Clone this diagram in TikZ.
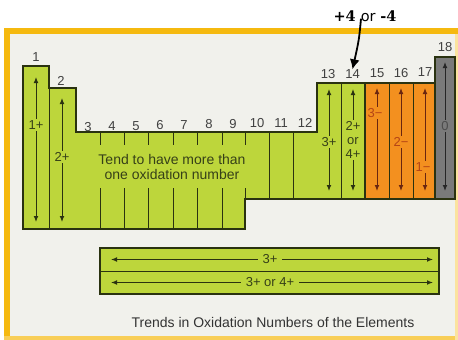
\documentclass[tikz,border=0pt]{standalone}
\usepackage{fontspec}
\setmainfont{Liberation Sans}
\newfontfamily\annserif{DejaVu Serif}
\newfontfamily\annsans{DejaVu Sans}
\usetikzlibrary{arrows.meta}
\definecolor{lime}{HTML}{BDD63B}
\definecolor{orng}{HTML}{F3901F}
\definecolor{grey}{HTML}{7A7A7A}
\definecolor{edge}{HTML}{2A3210}
\definecolor{framey}{HTML}{F5B90F}
\definecolor{pagebg}{HTML}{F1F1EC}
\definecolor{labg}{HTML}{364018}
\definecolor{labo}{HTML}{B44416}
\definecolor{arro}{HTML}{6A2610}
\tikzset{
  numlab/.style={font=\fontsize{13}{14}\selectfont, text=black!75, inner sep=0pt},
  cellab/.style={font=\fontsize{13}{14}\selectfont, inner sep=1.2pt, align=center},
  glab/.style={cellab, fill=lime, text=labg},
  olab/.style={cellab, fill=orng, text=labo},
  ylab/.style={cellab, fill=grey, text=black!70},
  tip/.tip={Latex[length=6pt,width=4.8pt]},
  garrow/.style={draw=edge, line width=1pt, tip-tip},
  oarrow/.style={draw=arro, line width=1pt, tip-tip},
  cell/.style={draw=edge, line width=1.2pt},
  grid/.style={draw=edge, line width=1pt},
}
\begin{document}
\begin{tikzpicture}[x=1pt,y=-1pt]
\useasboundingbox (0,0) rectangle (458,340);
\fill[white] (0,0) rectangle (458,340);
\fill[pagebg] (9,33) rectangle (455,337);
% frame
\fill[framey] (4,28) rectangle (458,34);
\fill[framey] (4,28) rectangle (10,340);
\fill[framey!70] (4,336) rectangle (458,340);
\fill[framey!40] (455,34) rectangle (458,340);

% main green block
\path[cell, fill=lime] (23,66) -- (49,66) -- (49,88) -- (76,88) -- (76,132) -- (317,132)
  -- (317,83) -- (365,83) -- (365,199) -- (245,199) -- (245,229) -- (23,229) -- cycle;
\path[cell, fill=orng] (365,83) rectangle (435,199);
\path[cell, fill=grey] (435,57) rectangle (455,199);

% inner lines
\draw[grid] (49,88) -- (49,229);
\foreach \x in {100,124,148,173,197,222,245} {
  \draw[grid] (\x,132) -- (\x,145);
}
\foreach \x in {100,124,148,173,197,222} {
  \draw[grid] (\x,188) -- (\x,229);
}
\draw[grid] (245,188) -- (245,199);
\foreach \x in {269,293} { \draw[grid] (\x,132) -- (\x,199); }
\draw[grid] (341,83) -- (341,199);
\foreach \x in {389,413} { \draw[grid] (\x,83) -- (\x,199); }

% group numbers
\node[numlab] (n1) at (36,57) {1};
\node[numlab] (n2) at (61,81) {2};
\node[numlab] (n3) at (88,127) {3};
\node[numlab] (n4) at (112,126.5) {4};
\node[numlab] (n5) at (136,126) {5};
\node[numlab] (n6) at (160,125.5) {6};
\node[numlab] (n7) at (184,125) {7};
\node[numlab] (n8) at (209,124.5) {8};
\node[numlab] (n9) at (233,124) {9};
\node[numlab] (n10) at (257,123.5) {10};
\node[numlab] (n11) at (281,123) {11};
\node[numlab] (n12) at (305,122.5) {12};
\node[numlab] (n13) at (328,74) {13};
\node[numlab] (n14) at (352.5,74) {14};
\node[numlab] (n15) at (377,73.5) {15};
\node[numlab] (n16) at (401,73) {16};
\node[numlab] (n17) at (425,72.5) {17};
\node[numlab] (n18) at (445,47) {18};

% column arrows
\coordinate (a1t) at (36,77);   \coordinate (a1b) at (36,222);
\coordinate (a2t) at (62,98);   \coordinate (a2b) at (62,222);
\coordinate (a13t) at (329,89); \coordinate (a13b) at (329,191);
\coordinate (a14t) at (353,89); \coordinate (a14b) at (353,191);
\coordinate (a15t) at (377,88); \coordinate (a15b) at (377,191);
\coordinate (a16t) at (401,88); \coordinate (a16b) at (401,191);
\coordinate (a17t) at (425,88); \coordinate (a17b) at (425,191);
\coordinate (a18t) at (445,62); \coordinate (a18b) at (445,191);
\draw[garrow] (a1t) -- (a1b);
\draw[garrow] (a2t) -- (a2b);
\draw[garrow] (a13t) -- (a13b);
\draw[garrow] (a14t) -- (a14b);
\draw[oarrow] (a15t) -- (a15b);
\draw[oarrow] (a16t) -- (a16b);
\draw[oarrow] (a17t) -- (a17b);
\draw[garrow, draw=black!85] (a18t) -- (a18b);

\node[glab] (l1) at (36,125) {1+};
\node[glab] (l2) at (62,157) {2+};
\node[glab] (l13) at (329,142) {3+};
\node[glab, font=\fontsize{13}{14}\selectfont] (l14) at (353,140) {2+\\or\\4+};
\node[olab] (l15) at (375,113) {3−};
\node[olab] (l16) at (401,142) {2−};
\node[olab] (l17) at (423,167) {1−};
\node[ylab] (l18) at (445,126) {0};

\node[font=\fontsize{14}{14.5}\selectfont, text=labg, align=center] (tend) at (172,167)
  {Tend to have more than\\one oxidation number};

% f-block
\path[cell, fill=lime] (100,248) rectangle (439,294);
\draw[grid] (100,271) -- (439,271);
\coordinate (r1l) at (111,259.5); \coordinate (r1r) at (433,259.5);
\coordinate (r2l) at (111,282.5); \coordinate (r2r) at (433,282.5);
\draw[garrow] (r1l) -- (r1r);
\draw[garrow] (r2l) -- (r2r);
\node[glab, inner xsep=5pt] (f1) at (270,259.5) {3+};
\node[glab, inner xsep=5pt] (f2) at (270,282.5) {3+ or 4+};

% caption
\node[font=\fontsize{14}{15}\selectfont, text=black!80] (cap) at (273,322)
  {Trends in Oxidation Numbers of the Elements};

% annotation
\node[inner sep=0pt, font=\fontsize{14.5}{15}\selectfont] (ann) at (365,16)
  {\annserif\bfseries +4 \annsans\mdseries or \annserif\bfseries -4};
\draw[line width=1.8pt, -{Latex[length=10pt,width=10pt]}] ([xshift=-4pt,yshift=3pt]ann.south) .. controls (359,40) .. (n14.north);
\end{tikzpicture}
\end{document}
